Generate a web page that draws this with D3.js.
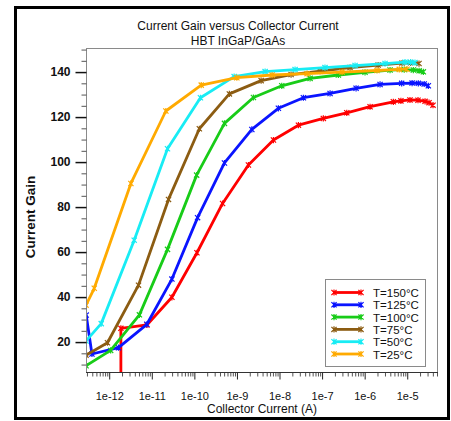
<!DOCTYPE html>
<html>
<head>
<meta charset="utf-8">
<script src="https://cdn.jsdelivr.net/npm/d3@7"></script>
<style>
  body { margin: 0; background: #fff; }
  svg { display: block; font-family: "Liberation Sans", Arial, sans-serif; }
</style>
</head>
<body>
<svg id="chart" width="451" height="421"></svg>
<script>
// Current gain vs collector current, HBT InGaP/GaAs
var labels = ["T=150°C", "T=125°C", "T=100°C", "T=75°C", "T=50°C", "T=25°C"];
var colors = ["#ff0000", "#0a14ff", "#18cc18", "#8c5c12", "#18ecf4", "#ffaa00"];

var ic150 = [1.88e-12, 1.88e-12, 7.67e-12, 2.97e-11, 1.15e-10, 4.6e-10, 1.86e-9, 7.2e-9, 2.78e-8, 1.07e-7, 3.8e-7, 1.34e-6, 4.72e-6, 7.1e-6, 1.16e-5, 1.79e-5, 2.62e-5, 3.25e-5, 4.03e-5];
var hfe150 = [0, 26.1, 27.6, 39.9, 59.7, 81.6, 98.7, 109.8, 116.4, 119.4, 121.9, 124.6, 126.8, 127.2, 127.6, 127.5, 127.0, 126.4, 125.3];

var ic125 = [2.88e-13, 3.93e-13, 1.65e-12, 7.67e-12, 2.97e-11, 1.19e-10, 5.09e-10, 2.24e-9, 9.4e-9, 3.64e-8, 1.54e-7, 6.28e-7, 2.3e-6, 7.4e-6, 1.3e-5, 1.82e-5, 2.5e-5, 3.13e-5];
var hfe125 = [32, 14.7, 17.5, 27.9, 48, 75.3, 99.6, 114.5, 123.9, 128.6, 130.5, 132.8, 134.5, 135, 135.1, 135, 134.7, 133.9];

var ic100 = [2.85e-13, 1.08e-12, 5.12e-12, 2.34e-11, 1.13e-10, 5.09e-10, 2.44e-9, 1.13e-8, 5.23e-8, 2.41e-7, 1.02e-6, 3.95e-6, 8.5e-6, 1.39e-5, 1.9e-5, 2.39e-5];
var hfe100 = [9.5, 16.3, 32.1, 61.2, 94.2, 117.2, 128.7, 133.9, 137.2, 138.7, 139.9, 140.9, 141.1, 140.9, 140.6, 140.1];

var ic75 = [2.85e-13, 9.1e-13, 4.88e-12, 2.47e-11, 1.31e-10, 6.64e-10, 3.7e-9, 1.87e-8, 8.97e-8, 4.54e-7, 2.07e-6, 7.55e-6, 1.2e-5, 1.89e-5];
var hfe75 = [14.2, 19.7, 45.3, 83.4, 114.8, 130.3, 136.2, 138.9, 140.4, 142, 143.1, 144, 144.1, 143.8];

var ic50 = [2.85e-13, 6.49e-13, 3.86e-12, 2.34e-11, 1.39e-10, 8.6e-10, 4.59e-9, 2.32e-8, 1.17e-7, 5.95e-7, 3.01e-6, 8.87e-6, 1.2e-5, 1.52e-5];
var hfe50 = [20.5, 28.2, 65.3, 105.9, 128.6, 138, 140.2, 141.1, 142, 142.9, 143.8, 144.4, 144.4, 144.2];

var ic25 = [2.85e-13, 4.45e-13, 3.23e-12, 2.14e-11, 1.45e-10, 9.95e-10, 6.7e-9, 4.44e-8, 2.95e-7, 1.95e-6, 6.5e-6, 9.9e-6];
var hfe25 = [36.4, 43.9, 90.5, 122.7, 134.2, 137.5, 138.7, 139.3, 140, 140.7, 141.2, 141.3];

var currents = [ic150, ic125, ic100, ic75, ic50, ic25];
var gains = [hfe150, hfe125, hfe100, hfe75, hfe50, hfe25];

var xMajor = [1e-12, 1e-11, 1e-10, 1e-9, 1e-8, 1e-7, 1e-6, 1e-5];
var xMajorLabels = ["1e-12", "1e-11", "1e-10", "1e-9", "1e-8", "1e-7", "1e-6", "1e-5"];
var yMajor = [20, 40, 60, 80, 100, 120, 140];

var svg = d3.select("#chart");
var plotL = 86, plotR = 437, plotT = 48, plotB = 372;

var x = d3.scaleLog().domain([2.85e-13, 5e-5]).range([plotL, plotR]);
var y = d3.scaleLinear().domain([6.7, 150.7]).range([plotB, plotT]);

// outer black frame
svg.append("rect")
    .attr("x", 15.5).attr("y", 7.5)
    .attr("width", 433).attr("height", 411)
    .attr("fill", "none").attr("stroke", "#000").attr("stroke-width", 3);

// titles
svg.append("text").attr("x", 238).attr("y", 30)
    .attr("text-anchor", "middle").attr("font-size", 12).attr("fill", "#111")
    .text("Current Gain versus Collector Current");
svg.append("text").attr("x", 238).attr("y", 44.5)
    .attr("text-anchor", "middle").attr("font-size", 12).attr("fill", "#111")
    .text("HBT InGaP/GaAs");

// plot frame
svg.append("rect")
    .attr("x", plotL + 0.5).attr("y", plotT + 0.5)
    .attr("width", plotR - plotL).attr("height", plotB - plotT)
    .attr("fill", "none").attr("stroke", "#8a8a8a").attr("stroke-width", 1);

// x minor ticks
var xMinor = [];
for (var e = -13; e <= -5; e++)
    for (var m = 2; m <= 9; m++) {
        var v = m * Math.pow(10, e);
        if (v >= x.domain()[0] && v <= x.domain()[1]) xMinor.push(v);
    }

var xAxisMinor = d3.axisBottom(x).tickValues(xMinor).tickSize(4).tickFormat("");
var gxm = svg.append("g").attr("transform", "translate(0," + (plotB + 0.5) + ")").call(xAxisMinor);
gxm.select(".domain").remove();
gxm.selectAll("line").attr("stroke", "#555");

var xAxis = d3.axisBottom(x).tickValues(xMajor).tickSize(7).tickPadding(13)
    .tickFormat(function(d, i) { return xMajorLabels[i]; });
var gx = svg.append("g").attr("transform", "translate(0," + (plotB + 0.5) + ")").call(xAxis);
gx.select(".domain").attr("stroke", "#333").attr("d", "M" + plotL + ",0H" + (plotR + 1));
gx.selectAll("line").attr("stroke", "#222");
gx.selectAll("text").attr("font-size", 11).attr("font-family", "Liberation Sans, Arial, sans-serif").attr("fill", "#111");

// y ticks
var yMinor = d3.range(10, 151, 5).filter(function(d) { return d % 20 !== 0; });
var yAxisMinor = d3.axisLeft(y).tickValues(yMinor).tickSize(5).tickFormat("");
var gym = svg.append("g").attr("transform", "translate(" + (plotL + 0.5) + ",0)").call(yAxisMinor);
gym.select(".domain").remove();
gym.selectAll("line").attr("stroke", "#555");

var yAxis = d3.axisLeft(y).tickValues(yMajor).tickSize(11).tickPadding(5);
var gy = svg.append("g").attr("transform", "translate(" + (plotL + 0.5) + ",0)").call(yAxis);
gy.select(".domain").remove();
gy.selectAll("line").attr("stroke", "#111").attr("stroke-width", 1.5);
gy.selectAll("text").attr("font-size", 12).attr("font-weight", "bold")
    .attr("font-family", "Liberation Sans, Arial, sans-serif").attr("fill", "#111");

// axis titles
svg.append("text").attr("x", 262).attr("y", 413)
    .attr("text-anchor", "middle").attr("font-size", 12).attr("fill", "#111")
    .text("Collector Current (A)");
svg.append("text")
    .attr("transform", "translate(35,217) rotate(-90)")
    .attr("text-anchor", "middle").attr("font-size", 13.5).attr("font-weight", "bold").attr("fill", "#111")
    .text("Current Gain");

// curves
svg.append("clipPath").attr("id", "plotclip")
    .append("rect").attr("x", plotL + 1).attr("y", plotT + 1)
    .attr("width", plotR - plotL - 1).attr("height", plotB - plotT - 1);

var line = d3.line()
    .x(function(d) { return x(d[0]); })
    .y(function(d) { return y(d[1]); });

var plot = svg.append("g").attr("clip-path", "url(#plotclip)");

function marker(g, px, py, color)
{
    var s = 2.6;
    g.append("path")
        .attr("d", "M" + (px - s) + "," + (py - s) + "L" + (px + s) + "," + (py + s) +
                   "M" + (px - s) + "," + (py + s) + "L" + (px + s) + "," + (py - s) +
                   "M" + px + "," + (py - s - 0.5) + "L" + px + "," + (py + s + 0.5))
        .attr("stroke", color).attr("stroke-width", 1.2).attr("fill", "none");
}

currents.forEach(function(ic, k) {
    var pts = ic.map(function(c, i) { return [c, gains[k][i]]; });
    plot.append("path")
        .datum(pts)
        .attr("d", line)
        .attr("fill", "none")
        .attr("stroke", colors[k])
        .attr("stroke-width", 2.8)
        .attr("stroke-linejoin", "round");
    var mg = plot.append("g");
    pts.forEach(function(p) { marker(mg, x(p[0]), y(p[1]), colors[k]); });
});

// legend
var lg = svg.append("g");
lg.append("rect").attr("x", 325.5).attr("y", 279.5).attr("width", 100).attr("height", 87)
    .attr("fill", "#fff").attr("stroke", "#8a8a8a").attr("stroke-width", 1);

labels.forEach(function(lab, k) {
    var ly = 292.5 + k * 12.3;
    lg.append("line").attr("x1", 333).attr("x2", 362).attr("y1", ly).attr("y2", ly)
        .attr("stroke", colors[k]).attr("stroke-width", 2.8);
    marker(lg, 334, ly, colors[k]);
    marker(lg, 361, ly, colors[k]);
    lg.append("text").attr("x", 373).attr("y", ly + 4.5)
        .attr("font-size", 11.5).attr("fill", "#111").text(lab);
});
</script>
</body>
</html>
